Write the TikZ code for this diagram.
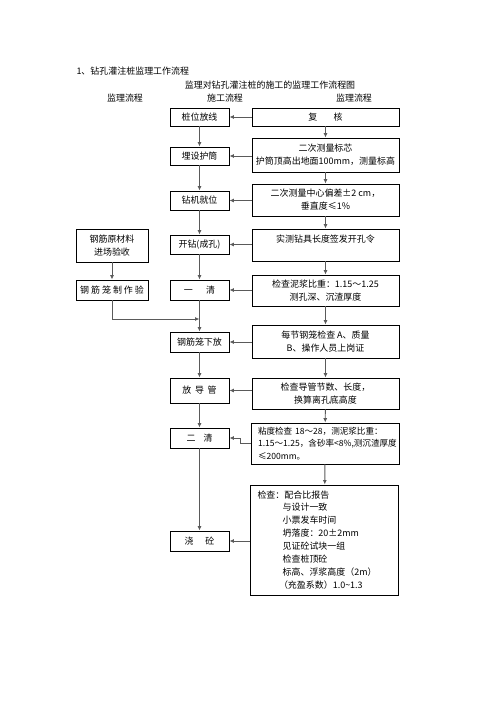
\documentclass[tikz,border=0pt]{standalone}
\usepackage{fontspec}
\setmainfont{Noto Sans CJK SC}
\usetikzlibrary{arrows.meta, positioning}
\definecolor{lngray}{HTML}{5A5A5A}

\begin{document}
\begin{tikzpicture}[
      x=1bp, y=-1bp,
      font=\fontsize{9}{13}\selectfont,
      box/.style={draw=black, line width=0.9bp, inner sep=0pt, align=center},
      lbox/.style={box, minimum width=59bp},
      rbox/.style={box, minimum width=147bp},
      ar/.style={-{Latex[length=4.5pt,width=4pt]}, lngray, line width=0.9bp},
    ]
    \useasboundingbox (0,0) rectangle (496,702);

    % headings
    \node[anchor=west] (title) at (73,71) {1、钻孔灌注桩监理工作流程};
    \node (sub)  at (270,85) {监理对钻孔灌注桩的施工的监理工作流程图};
    \node (hl)   at (125,98) {监理流程};
    \node (hm)   at (225,98) {施工流程};
    \node (hr)   at (354,98) {监理流程};

    % construction column
    \node[lbox, minimum height=18bp] (zw) at (199.5,117)   {桩位放线};
    \node[lbox, minimum height=18bp] (hu) at (199.5,156)   {埋设护筒};
    \node[lbox, minimum height=19bp] (zj) at (199.5,200.5) {钻机就位};
    \node[lbox, minimum height=19bp] (kz) at (199.5,244.5) {开钻(成孔)};
    \node[lbox, minimum height=20bp] (yq) at (199.5,290)   {一\hspace{1.5em}清};
    \node[lbox, minimum height=20bp] (xf) at (199.5,342)   {钢筋笼下放};
    \node[lbox, minimum height=25bp] (fd) at (199.5,390.5) {放\hspace{0.4em}导\hspace{0.4em}管};
    \node[lbox, minimum height=20bp] (eq) at (199.5,438)   {二\hspace{0.9em}清};
    \node[lbox, minimum height=20bp] (jt) at (199.5,541)   {浇\hspace{1.3em}砼};

    % supervision column
    \node[rbox, minimum height=18bp] (fh) at (325.5,117)   {复\hspace{1.8em}核};
    \node[rbox, minimum height=34bp] (r1) at (325.5,155)   {二次测量标芯\\护筒顶高出地面100mm，测量标高};
    \node[rbox, minimum height=32bp] (r2) at (325.5,200)   {二次测量中心偏差±2 cm，\\垂直度≤1\%};
    \node[rbox, minimum height=32bp] (r3) at (325.5,245)   {实测钻具长度签发开孔令\\\mbox{}};
    \node[rbox, minimum height=31bp] (r4) at (325.5,290.5) {检查泥浆比重：1.15～1.25\\测孔深、沉渣厚度};
    \node[rbox, minimum height=33bp] (r5) at (325.5,341.5) {每节钢笼检查 A、质量\\B、操作人员上岗证};
    \node[rbox, minimum height=31bp] (r6) at (325.5,393.5) {检查导管节数、长度，\\换算离孔底高度};
    \node[box, text width=134bp, inner xsep=7bp, minimum height=41bp, align=left, font=\fontsize{8.6}{12.5}\selectfont]
         (r7) at (325,443.5) {粘度检查 18～28，测泥浆比重：\\1.15～1.25，含砂率<8\%,测沉渣厚度\\≤200mm。};
    \node[box, text width=134bp, inner xsep=7bp, minimum height=110bp, align=left]
         (r8) at (324.5,540) {检查：配合比报告\\
           \hspace{2.8em}与设计一致\\
           \hspace{2.8em}小票发车时间\\
           \hspace{2.8em}坍落度：20±2mm\\
           \hspace{2.8em}见证砼试块一组\\
           \hspace{2.8em}检查桩顶砼\\
           \hspace{2.8em}标高、浮浆高度（2m）\\
           \hspace{2.4em}（充盈系数）1.0\textasciitilde 1.3};

    % steel cage column
    \node[box, minimum width=72bp, minimum height=33bp] (yc) at (112,245.5) {钢筋原材料\\进场验收};
    \node[box, minimum width=72bp, minimum height=20bp] (zz) at (112,290)   {钢 筋 笼 制 作 验};
    \coordinate (jn) at (199.5,319);

    % main flow
    \draw[ar] (zw) -- (hu);
    \draw[ar] (hu) -- (zj);
    \draw[ar] (zj) -- (kz);
    \draw[ar] (kz) -- (yq);
    \draw[ar] (yq) -- (xf);
    \draw[ar] (xf) -- (fd);
    \draw[ar] (fd) -- (eq);
    \draw[ar] (eq) -- (jt);

    \draw[ar] (fh) -- (r1);
    \draw[ar] (r1) -- (r2);
    \draw[ar] (r2) -- (r3);
    \draw[ar] (r3) -- (r4);
    \draw[ar] (r4) -- (r5);
    \draw[ar] (r5) -- (r6);
    \draw[ar] (r6) -- (r7);
    \draw[ar] (r7) -- (r8);

    % checks feed back
    \draw[ar] (fh.west |- zw.east) -- (zw.east);
    \draw[ar] (r1.west |- hu.east) -- (hu.east);
    \draw[ar] (r2.west |- zj.east) -- (zj.east);
    \draw[ar] (r3.west |- kz.east) -- (kz.east);
    \draw[ar] (r4.west |- yq.east) -- (yq.east);
    \draw[ar] (r5.west |- xf.east) -- (xf.east);
    \draw[ar] (r6.west |- fd.east) -- (fd.east);
    \draw[ar] (r7.west) -- ++(-10,0) |- (eq.east);
    \draw[ar] (r8.west |- jt.east) -- (jt.east);

    \draw[ar] (yc) -- (zz);
    \draw[ar] (zz.south) |- (jn);
  \end{tikzpicture}
\end{document}
